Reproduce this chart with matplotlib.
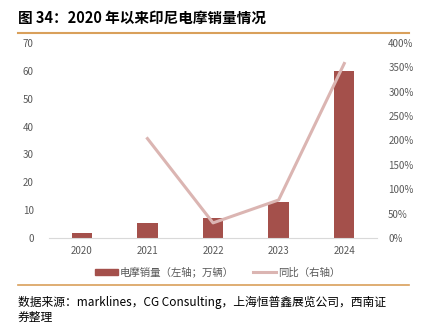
import matplotlib
matplotlib.use("Agg")
import matplotlib.pyplot as plt
from matplotlib.lines import Line2D
from matplotlib.patches import Patch

plt.rcParams['font.family'] = ['Noto Sans CJK SC', 'DejaVu Sans']

years = ['2020', '2021', '2022', '2023', '2024']
sales = [1.8, 5.4, 7.1, 13.0, 59.8]          # 万辆
yoy = [None, 204, 31, 78, 358]                # %

bar_color = '#A4504B'
line_color = '#DBB5B2'
tick_color = '#595959'
rule_color = '#D9A05B'

fig = plt.figure(figsize=(4.28, 3.25), dpi=100)
ax = fig.add_axes([0.1145, 0.2677, 0.7665, 0.6])
ax2 = ax.twinx()

x = list(range(len(years)))
ax.bar(x, sales, width=0.31, color=bar_color, zorder=2)
ax.set_xlim(-0.5, 4.5)
ax.set_ylim(0, 70)
ax.set_yticks(range(0, 71, 10))
ax.set_xticks(x)
ax.set_xticklabels(years)

ax2.plot(x[1:], yoy[1:], color=line_color, lw=2.2, zorder=3)
ax2.set_ylim(0, 400)
ax2.set_yticks(range(0, 401, 50))
ax2.set_yticklabels([f'{v}%' for v in range(0, 401, 50)])

for a in (ax, ax2):
    for s in a.spines.values():
        s.set_visible(False)
    a.tick_params(length=0, labelsize=7, colors=tick_color)
ax.spines['bottom'].set_visible(True)
ax.spines['bottom'].set_color('#D9D9D9')
ax.tick_params(axis='y', pad=11)
ax.tick_params(axis='x', pad=6)
ax2.tick_params(axis='y', pad=8)

# title
fig.text(0.042, 0.945, '图 34：2020 年以来印尼电摩销量情况', fontsize=10.5,
         fontweight='bold', va='center', ha='left', color='#000000')
fig.add_artist(Line2D([0.042, 0.955], [0.898, 0.898], color=rule_color, lw=1.5))
fig.add_artist(Line2D([0.042, 0.955], [0.123, 0.123], color=rule_color, lw=1.2))

handles = [Patch(color=bar_color), Line2D([], [], color=line_color, lw=2.2)]
labels = ['电摩销量（左轴；万辆）', '同比（右轴）']
fig.legend(handles, labels, loc='center', bbox_to_anchor=(0.508, 0.163), ncol=2,
           frameon=False, fontsize=7.5, handlelength=2.2, handleheight=0.45,
           columnspacing=1.8, handletextpad=0.2, labelcolor=tick_color)

fig.text(0.042, 0.07, '数据来源：marklines，CG Consulting，上海恒普鑫展览公司，西南证',
         fontsize=8.5, style='italic', va='center', ha='left', color='#000000')
fig.text(0.042, 0.022, '券整理', fontsize=8.5, style='italic', va='center',
         ha='left', color='#000000')

fig.savefig('out.png', dpi=100)
